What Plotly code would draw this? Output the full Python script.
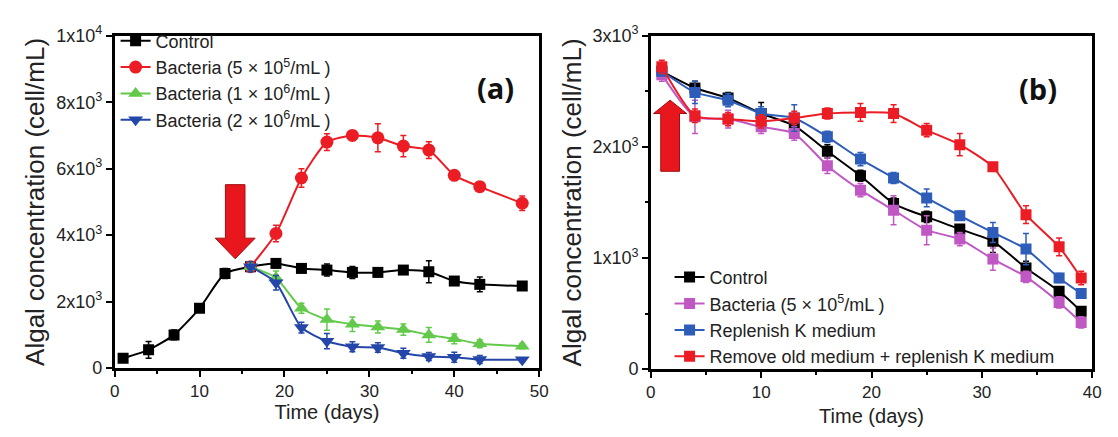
import plotly.graph_objects as go

# ---------------- Panel (a): algae growth with bacteria added on day 16 ----------------
days_a = [1, 4, 7, 10, 13, 16, 19, 22, 25, 28, 31, 34, 37, 40, 43, 48]
days_a_bac = [16, 19, 22, 25, 28, 31, 34, 37, 40, 43, 48]

control_a = [300, 550, 1000, 1800, 2850, 3050, 3150, 3000, 2950, 2880, 2880, 2950, 2900, 2620, 2520, 2470]
control_a_err = [60, 250, 150, 80, 150, 100, 120, 120, 180, 180, 120, 120, 330, 80, 220, 60]

bac5e5_a = [3050, 4050, 5720, 6800, 7000, 6930, 6680, 6560, 5800, 5460, 4960]
bac5e5_a_err = [120, 250, 280, 250, 120, 420, 320, 250, 100, 120, 220]

bac1e6_a = [3050, 2720, 1800, 1460, 1320, 1240, 1160, 1000, 880, 730, 660]
bac1e6_a_err = [100, 200, 150, 320, 220, 180, 170, 220, 150, 120, 80]

bac2e6_a = [3050, 2570, 1220, 810, 640, 620, 450, 350, 330, 260, 250]
bac2e6_a_err = [150, 220, 160, 230, 150, 140, 150, 120, 150, 120, 60]

# ---------------- Panel (b): medium treatments ----------------
days_b = [1, 4, 7, 10, 13, 16, 19, 22, 25, 28, 31, 34, 37, 39]

control_b = [2680, 2530, 2440, 2300, 2190, 1960, 1740, 1490, 1370, 1260, 1150, 910, 700, 520]
control_b_err = [40, 60, 50, 100, 60, 60, 50, 50, 50, 40, 100, 60, 40, 40]

bacteria_b = [2650, 2270, 2250, 2180, 2120, 1830, 1610, 1430, 1250, 1170, 990, 830, 600, 420]
bacteria_b_err = [60, 150, 80, 60, 60, 70, 60, 130, 130, 60, 100, 50, 50, 50]

replenish_b = [2680, 2490, 2420, 2300, 2260, 2090, 1890, 1720, 1540, 1380, 1230, 1080, 820, 680]
replenish_b_err = [40, 100, 60, 60, 120, 50, 60, 50, 80, 40, 90, 140, 40, 30]

remove_b = [2720, 2280, 2250, 2230, 2260, 2300, 2310, 2300, 2150, 2020, 1820, 1390, 1100, 820]
remove_b_err = [60, 60, 60, 60, 60, 50, 80, 80, 60, 100, 40, 80, 80, 60]

yticks_a = [0, 2000, 4000, 6000, 8000, 10000]
yticklabels_a = ["0", "2x10<sup>3</sup>", "4x10<sup>3</sup>", "6x10<sup>3</sup>", "8x10<sup>3</sup>", "1x10<sup>4</sup>"]
yticks_b = [0, 1000, 2000, 3000]
yticklabels_b = ["0", "1x10<sup>3</sup>", "2x10<sup>3</sup>", "3x10<sup>3</sup>"]

RED = "#ec1c24"
GREEN = "#62c94a"
BLUE_A = "#2446a8"
BLUE_B = "#2d5db8"
MAGENTA = "#c058c4"
BLACK = "#000000"

FONT = "Liberation Sans, Arial, sans-serif"
TEXT = "#222"

W, H = 1118, 437

fig = go.Figure()


def add_series(x, y, err, name, color, symbol, size, xa, ya, legend):
    fig.add_trace(go.Scatter(
        x=x, y=y, name=name, mode="lines+markers",
        line=dict(color=color, width=2, shape="spline", smoothing=0.6),
        marker=dict(color=color, symbol=symbol, size=size),
        error_y=dict(type="data", array=err, visible=True, color=color, thickness=1.5, width=3),
        xaxis=xa, yaxis=ya, legend=legend,
    ))


add_series(days_a, control_a, control_a_err, "Control", BLACK, "square", 11, "x", "y", "legend")
add_series(days_a_bac, bac5e5_a, bac5e5_a_err, "Bacteria (5 × 10<sup>5</sup>/mL )", RED, "circle", 13, "x", "y", "legend")
add_series(days_a_bac, bac1e6_a, bac1e6_a_err, "Bacteria (1 × 10<sup>6</sup>/mL )", GREEN, "triangle-up", 13, "x", "y", "legend")
add_series(days_a_bac, bac2e6_a, bac2e6_a_err, "Bacteria (2 × 10<sup>6</sup>/mL )", BLUE_A, "triangle-down", 13, "x", "y", "legend")

add_series(days_b, control_b, control_b_err, "Control", BLACK, "square", 11, "x2", "y2", "legend2")
add_series(days_b, bacteria_b, bacteria_b_err, "Bacteria (5 × 10<sup>5</sup>/mL )", MAGENTA, "square", 11, "x2", "y2", "legend2")
add_series(days_b, replenish_b, replenish_b_err, "Replenish K medium", BLUE_B, "square", 11, "x2", "y2", "legend2")
add_series(days_b, remove_b, remove_b_err, "Remove old medium + replenish K medium", RED, "square", 11, "x2", "y2", "legend2")


def block_arrow(xref, yref, xc, half_shaft, half_head, y_tail, y_neck, y_tip):
    path = (f"M {xc - half_shaft},{y_tail} L {xc + half_shaft},{y_tail} "
            f"L {xc + half_shaft},{y_neck} L {xc + half_head},{y_neck} "
            f"L {xc},{y_tip} L {xc - half_head},{y_neck} L {xc - half_shaft},{y_neck} Z")
    return dict(type="path", xref=xref, yref=yref, path=path,
                fillcolor="#e8161d", line=dict(color="#a50d12", width=1), layer="above")


shapes = [
    block_arrow("x", "y", 14.2, 1.15, 2.35, 5520, 3910, 3290),
    block_arrow("x2", "y2", 1.75, 0.85, 1.5, 1780, 2300, 2420),
]

axis_common = dict(
    showline=True, linecolor="black", linewidth=2.5, mirror=True,
    ticks="outside", ticklen=6, tickwidth=2, tickcolor="black",
    showgrid=False, zeroline=False,
)
minor_x = dict(dtick=5, ticks="outside", ticklen=3, tickwidth=2, tickcolor="black")

fig.update_layout(
    width=W, height=H,
    margin=dict(l=0, r=0, t=0, b=0),
    paper_bgcolor="white", plot_bgcolor="white",
    shapes=shapes,
    xaxis=dict(domain=[111 / W, 541 / W], range=[0, 50], dtick=10, minor=minor_x,
               tickfont=dict(family=FONT, size=17, color=TEXT),
               title=dict(text="Time (days)", font=dict(family=FONT, size=20, color=TEXT), standoff=2),
               **axis_common),
    yaxis=dict(domain=[1 - 375 / H, 1 - 25 / H], range=[0, 10000], tickvals=yticks_a, ticktext=yticklabels_a,
               tickfont=dict(family=FONT, size=18, color=TEXT),
               title=dict(text="Algal concentration (cell/mL)", font=dict(family=FONT, size=26, color=TEXT), standoff=5),
               **axis_common),
    xaxis2=dict(domain=[654 / W, 1101 / W], range=[0, 40], dtick=10, anchor="y2", minor=minor_x,
                tickfont=dict(family=FONT, size=17, color=TEXT),
                title=dict(text="Time (days)", font=dict(family=FONT, size=20, color=TEXT), standoff=8),
                **axis_common),
    yaxis2=dict(domain=[1 - 376 / H, 1 - 25 / H], range=[0, 3000], tickvals=yticks_b, ticktext=yticklabels_b,
                anchor="x2",
                minor=dict(dtick=500, ticks="outside", ticklen=3, tickwidth=2, tickcolor="black"),
                tickfont=dict(family=FONT, size=18, color=TEXT),
                title=dict(text="Algal concentration (cell/mL)", font=dict(family=FONT, size=26, color=TEXT), standoff=4),
                **axis_common),
    legend=dict(x=112 / W, y=1 - 11 / H, xanchor="left", yanchor="top", bgcolor="rgba(0,0,0,0)",
                font=dict(family=FONT, size=18, color=TEXT), itemwidth=30, tracegroupgap=0),
    legend2=dict(x=673 / W, y=1 - 260 / H, xanchor="left", yanchor="top", bgcolor="rgba(0,0,0,0)",
                 font=dict(family=FONT, size=18, color=TEXT), itemwidth=30, tracegroupgap=0),
    annotations=[
        dict(text="<b>(a)</b>", x=497 / W, y=1 - 57 / H, xref="paper", yref="paper", showarrow=False,
             font=dict(family="Open Sans, Lato, sans-serif", size=29, color="#111")),
        dict(text="<b>(b)</b>", x=1067 / W, y=1 - 58 / H, xref="paper", yref="paper", showarrow=False,
             font=dict(family="Open Sans, Lato, sans-serif", size=29, color="#111")),
    ],
)

fig.write_html("out.html")
